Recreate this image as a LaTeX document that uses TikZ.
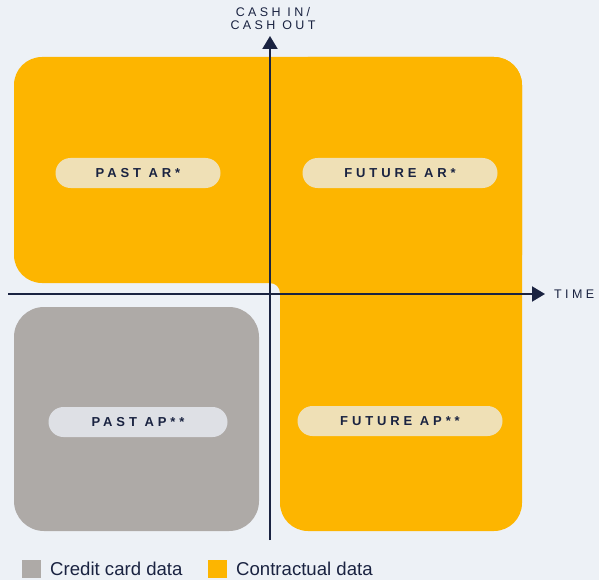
\documentclass[tikz,border=0pt]{standalone}
\usepackage{fontspec}
\setmainfont{Liberation Sans}
\newfontfamily\spacedfont[LetterSpace=30]{Liberation Sans}
\newfontfamily\axisfont[LetterSpace=27]{Liberation Sans}
\usetikzlibrary{arrows.meta}
\definecolor{bgC}{HTML}{EDF1F6}
\definecolor{orangeC}{HTML}{FDB500}
\definecolor{greyC}{HTML}{AEAAA7}
\definecolor{creamC}{HTML}{EFE0B6}
\definecolor{pillgreyC}{HTML}{DEE0E5}
\definecolor{navyC}{HTML}{1A2341}

\tikzset{
  pill/.style={rounded corners=15pt, minimum width=#1, minimum height=30pt, inner sep=0pt,
    text=navyC, font=\spacedfont\bfseries\fontsize{13}{15}\selectfont},
  axis/.style={draw=navyC, line width=2pt, -{Triangle[length=13pt,width=15pt]}},
  axislabel/.style={text=navyC, inner sep=0pt, font=\axisfont\fontsize{12.5}{14}\selectfont},
  legend/.style={text=navyC, inner sep=0pt, anchor=west, font=\fontsize{18.6}{21}\selectfont}
}

\begin{document}
\begin{tikzpicture}[x=1pt,y=-1pt]
\useasboundingbox (0,0) rectangle (599,580);
\fill[bgC] (0,0) rectangle (599,580);

%Shape: contractual data area
\fill[orangeC, rounded corners=28pt] (14,57) rectangle (522,283);
\fill[orangeC, rounded corners=28pt] (280,57) rectangle (522,531);
\fill[orangeC] (270,283) -- (280,283) -- (280,293) .. controls (280,287.5) and (275.5,283) .. (270,283);
%Shape: credit card data area
\fill[greyC, rounded corners=30pt] (14,307) rectangle (259,531);

% Pills
\node[pill=165pt, fill=creamC] (pastAR) at (138,173) {PAST AR*};
\node[pill=195pt, fill=creamC] (futureAR) at (400,173) {FUTURE AR*};
\node[pill=179pt, fill=pillgreyC] (pastAP) at (138,422) {PAST AP**};
\node[pill=205pt, fill=creamC] (futureAP) at (400,421) {FUTURE AP**};

% Axes
\coordinate (ybot) at (270,540);
\coordinate (ytop) at (270,36);
\coordinate (xleft) at (8,294);
\coordinate (xright) at (545,294);
\draw[axis] (ybot) -- (ytop);
\draw[axis] (xleft) -- (xright);

% Text Node
\node[axislabel, align=center] (cashlbl) at (273,18.5) {CASH IN/\\[-0.5pt]CASH OUT};
% Text Node
\node[axislabel, anchor=west] (timelbl) at (554,294) {TIME};

% Legend
\fill[greyC] (22,560) rectangle (41,578);
\node[legend] (creditlbl) at (50,569) {Credit card data};
\fill[orangeC] (208,560) rectangle (227,578);
\node[legend] (contractlbl) at (236,569) {Contractual data};

\end{tikzpicture}
\end{document}
